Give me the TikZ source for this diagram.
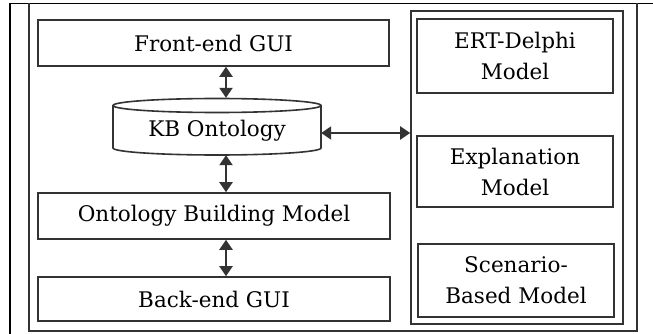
\documentclass[tikz,border=0pt]{standalone}
\usepackage{fontspec}
\setmainfont{DejaVu Serif}
\usetikzlibrary{arrows.meta}
\definecolor{ln}{HTML}{333333}
\tikzset{
  box/.style={draw=ln, line width=1.6pt, inner sep=0pt, align=center, text=black,
    font=\fontsize{21.5}{31}\selectfont},
  arr/.style={draw=ln, line width=2.2pt, {Triangle[width=13pt,length=10pt]}-{Triangle[width=13pt,length=10pt]}},
  frame/.style={draw=black, line width=1.3pt}
}
\begin{document}
\begin{tikzpicture}[x=1pt,y=-1pt]
\useasboundingbox (0,0) rectangle (653,334);
\fill[white] (0,0) rectangle (653,334);
% outer table frame
\draw[frame] (10,3.5) -- (653,3.5);
\draw[black, line width=2.5pt] (10,3) -- (10,334);
\draw[ln, line width=1.5pt] (29,3.5) -- (29,331) -- (637,331) -- (637,3.5);
% left column
\node[box, minimum width=351pt, minimum height=46pt] (fe) at (213.5,43) {Front-end GUI};
\node[inner sep=0pt, minimum width=208pt, minimum height=57pt, text=black,
  font=\fontsize{21.5}{31}\selectfont] (kb) at (217,126.5) {\raisebox{-4pt}[\height][\depth]{KB Ontology}};
\draw[ln, line width=1.6pt] (217,105.5) ellipse [x radius=104pt, y radius=7pt];
\draw[ln, line width=1.6pt] (113,105.5) -- (113,148)
  arc[start angle=180, end angle=360, x radius=104pt, y radius=7pt] -- (321,105.5);
\node[box, minimum width=352pt, minimum height=46pt] (obm) at (214,216) {Ontology Building Model};
\node[box, minimum width=352pt, minimum height=44pt] (be) at (214,299) {Back-end GUI};
% right column
\node[box, minimum width=212pt, minimum height=313pt] (cont) at (517,167.5) {};
\node[box, minimum width=196pt, minimum height=74pt] (ert) at (515,56) {ERT-Delphi\\Model};
\node[box, minimum width=196pt, minimum height=71pt] (exp) at (515,171.5) {Explanation\\Model};
\node[box, minimum width=196pt, minimum height=73pt] (scn) at (516,280.5) {Scenario-\\Based Model};
% arrows
\coordinate (ax) at (226,0);
\coordinate (ay) at (0,133);
\draw[arr] (fe.south -| ax) -- (kb.north -| ax);
\draw[arr] (kb.south -| ax) -- (obm.north -| ax);
\draw[arr] (obm.south -| ax) -- (be.north -| ax);
\draw[arr] (kb.east |- ay) -- (cont.west |- ay);
\end{tikzpicture}
\end{document}
